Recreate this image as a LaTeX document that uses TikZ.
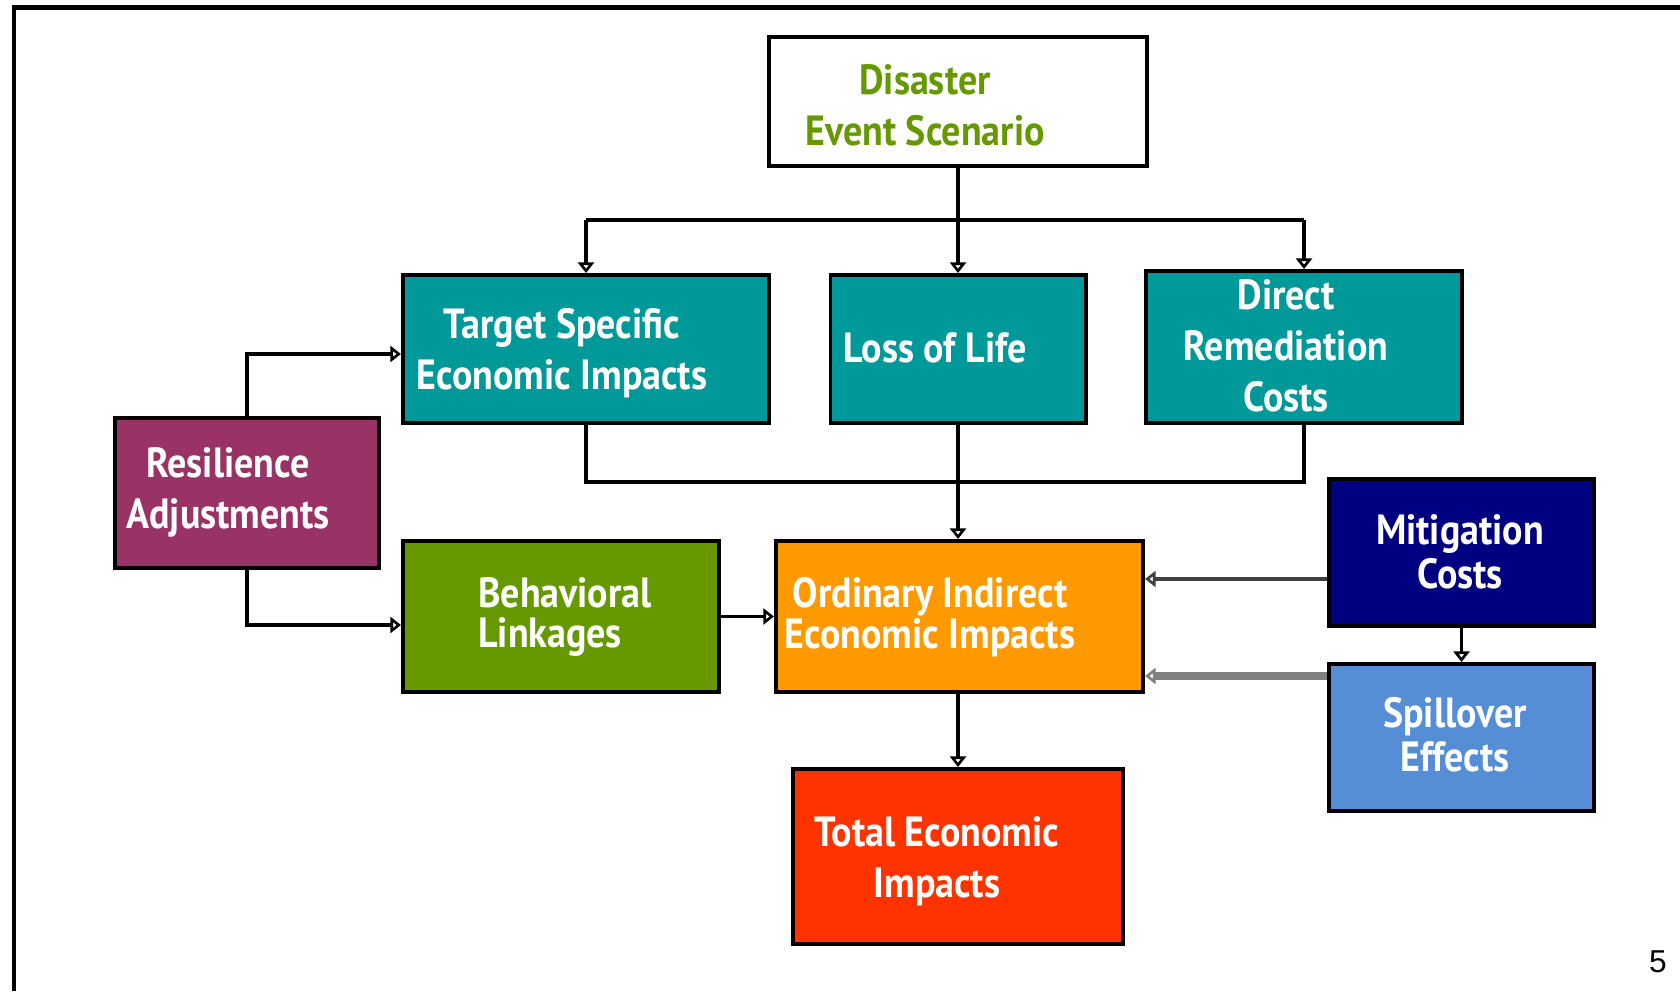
\documentclass[tikz,border=0pt]{standalone}
\usepackage{fontspec}
\setmainfont{PT Sans}
\newfontfamily\boxfont[FakeStretch=0.9]{PT Sans}
\newfontfamily\pagefont{Liberation Sans}
\usetikzlibrary{arrows.meta}
\definecolor{myGreen}{RGB}{102,153,0}
\definecolor{myTeal}{RGB}{0,153,153}
\definecolor{myPlum}{RGB}{153,51,102}
\definecolor{myOrange}{RGB}{255,153,0}
\definecolor{myNavy}{RGB}{0,0,128}
\definecolor{mySky}{RGB}{85,142,213}
\definecolor{myRed}{RGB}{255,51,0}

\begin{document}
\begin{tikzpicture}[%
    x=0.01cm, y=-0.01cm,
    box/.style={draw=black, line width=1.1pt, inner sep=0pt},
    boxtext/.style={
        font=\boxfont\bfseries\fontsize{12}{14.5}\selectfont,
        text=white,
        align=center,
        inner sep=0pt,
    },
    tighttext/.style={boxtext, font=\boxfont\bfseries\fontsize{12}{11.5}\selectfont},
    sidetext/.style={boxtext, font=\boxfont\bfseries\fontsize{12}{12.5}\selectfont},
    link/.style={line width=1pt, -{Triangle[open, length=3pt, width=4.5pt]}},
]
\useasboundingbox (0,0) rectangle (1680,991);

% frame
\draw [line width=1.2pt] (14,991) -- (14,7.5) -- (1680,7.5);

% place boxes
\node[box, fill=white, minimum width=3.77cm, minimum height=1.29cm] (disaster) at (958,101.5) {};
\node[box, fill=myTeal, minimum width=3.66cm, minimum height=1.48cm] (target) at (586,349) {};
\node[box, fill=myTeal, minimum width=2.55cm, minimum height=1.48cm] (life) at (958,349) {};
\node[box, fill=myTeal, minimum width=3.16cm, minimum height=1.52cm] (remedy) at (1304,347) {};
\node[box, fill=myPlum, minimum width=2.64cm, minimum height=1.50cm] (resilience) at (247,493) {};
\node[box, fill=myGreen, minimum width=3.16cm, minimum height=1.51cm] (behavior) at (561,616.5) {};
\node[box, fill=myOrange, minimum width=3.67cm, minimum height=1.51cm] (ordinary) at (959.5,616.5) {};
\node[box, fill=myNavy, minimum width=2.65cm, minimum height=1.47cm] (mitigation) at (1461.5,552.5) {};
\node[box, fill=mySky, minimum width=2.65cm, minimum height=1.47cm] (spillover) at (1461.5,737.5) {};
\node[box, fill=myRed, minimum width=3.30cm, minimum height=1.75cm] (total) at (958,856.5) {};

% place box texts
\node[boxtext, text=myGreen] (disastertxt) at (925,105) {Disaster\\Event Scenario};
\node[boxtext] (targettxt) at (562,353) {Target Specific\\Economic Impacts};
\node[boxtext] (lifetxt) at (935,348) {Loss of Life};
\node[boxtext] (remedytxt) at (1286,346) {Direct\\Remediation\\Costs};
\node[boxtext] (resiliencetxt) at (228,492) {Resilience\\Adjustments};
\node[tighttext, align=left] (behaviortxt) at (565,617) {Behavioral\\Linkages};
\node[tighttext] (ordinarytxt) at (930,617) {Ordinary Indirect\\Economic Impacts};
\node[sidetext] (mitigationtxt) at (1460,552) {Mitigation\\Costs};
\node[sidetext] (spillovertxt) at (1455,735) {Spillover\\Effects};
\node[boxtext] (totaltxt) at (937,861) {Total Economic\\Impacts};

% page number
\node[font=\pagefont\fontsize{9}{9}\selectfont] (page) at (1658,962) {5};

% disaster to first row
\coordinate (split) at (disaster.south |- 0,220);
\draw [line width=1.2pt] (disaster.south) -- (split);
\draw [line width=1pt] (split -| target) -- (split -| remedy);
\draw [link] (split -| target) -- (target.north);
\draw [link] (split) -- (life.north);
\draw [link] (split -| remedy) -- (remedy.north);

% first row to ordinary impacts
\draw [line width=1pt] (target.south) |- (0,482 -| life) -| (remedy.south);
\draw [link, line width=1.2pt] (life.south) -- (life.south |- ordinary.north);

% resilience
\draw [link] (resilience.north) |- (target.west |- 0,354);
\draw [link] (resilience.south) |- (behavior.west |- 0,625);

% into ordinary impacts
\draw [link] (behavior.east) -- (ordinary.west);
\draw [link, black!75] (mitigation.west |- 0,579) -- (ordinary.east |- 0,579);
\draw [link, black!50, line width=2pt] (spillover.west |- 0,676) -- (ordinary.east |- 0,676);
\draw [link] (mitigation.south) -- (spillover.north);

% total
\draw [link] (ordinary.south -| total) -- (total.north);

\end{tikzpicture}
\end{document}
